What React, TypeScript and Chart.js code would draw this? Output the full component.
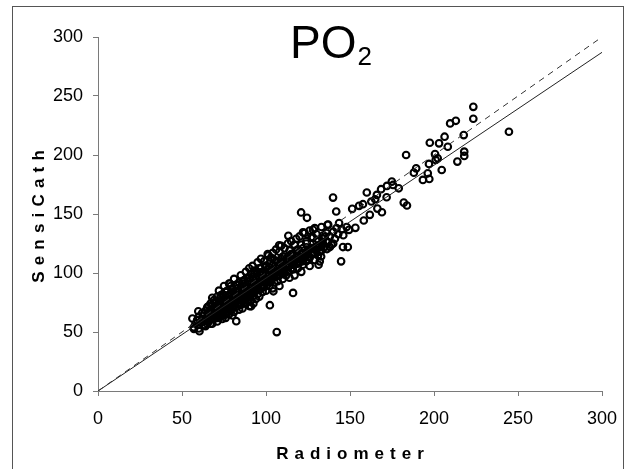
import React, { useEffect, useRef } from "react";
import { Chart, registerables } from "chart.js";

Chart.register(...registerables);

const FONT = '"Liberation Sans", Arial, Helvetica, sans-serif';

const TITLE_MAIN = "PO";
const TITLE_SUB = "2";
const X_TITLE = "Radiometer";
const Y_TITLE = "SensiCath";
const TICK_VALUES = [0, 50, 100, 150, 200, 250, 300];

// Radiometer (x) values
const radiometer = [
  57, 58, 59, 60, 60, 61, 62, 62, 63, 63, 64, 64, 65, 65, 65, 66, 66, 67, 67, 67,
  68, 68, 68, 69, 69, 69, 70, 70, 70, 71, 71, 71, 71, 72, 72, 72, 73, 73, 73, 74,
  74, 74, 74, 75, 75, 75, 76, 76, 76, 76, 77, 77, 77, 78, 78, 78, 79, 79, 79, 79,
  80, 80, 80, 80, 81, 81, 81, 82, 82, 82, 82, 83, 83, 83, 84, 84, 84, 84, 85, 85,
  85, 86, 86, 86, 86, 87, 87, 87, 88, 88, 88, 89, 89, 89, 90, 90, 90, 90, 91, 91,
  91, 92, 92, 92, 93, 93, 93, 94, 94, 94, 95, 95, 95, 96, 96, 96, 97, 97, 97, 98,
  98, 98, 99, 99, 100, 100, 100, 100, 101, 101, 102, 102, 102, 103, 103, 104, 104, 104, 105, 105,
  106, 106, 106, 107, 107, 108, 108, 108, 109, 109, 110, 110, 110, 111, 111, 112, 112, 113, 113, 114,
  114, 115, 115, 116, 116, 117, 117, 118, 118, 119, 119, 120, 120, 121, 121, 122, 122, 123, 124, 124,
  125, 126, 126, 127, 128, 128, 129, 130, 130, 131, 132, 133, 134, 135, 136, 137, 138, 139, 140, 141,
  142, 143, 145, 146, 148,
  66, 68, 70, 72, 73, 75, 76, 78, 80, 81, 83, 85, 86, 88, 89, 90, 91, 92, 93, 94,
  95, 96, 97, 98, 99, 100, 101, 102, 103, 104, 105, 106, 107, 108, 109, 110, 111, 112, 113, 114,
  115, 116, 117, 118, 119, 120, 121, 122, 123, 124, 125, 126, 127, 128, 129, 130, 131, 133, 135, 137,
  63, 64, 66, 67, 69, 70, 71, 72, 73, 74, 75, 77, 77, 78, 79, 80, 81, 82, 83, 84,
  85, 86, 87, 88, 89, 90, 91, 92, 93, 94, 95, 96, 97, 98, 99, 100, 101, 102, 103, 104,
  105, 106, 107, 108, 109, 110, 111, 112, 113, 114, 115, 116, 117, 118, 119, 120, 121, 122, 123, 124,
  125, 126, 127, 128, 129, 130, 131, 132, 133, 134, 136, 138, 140, 92.5,
  223.4, 223.4, 244.6, 213, 209.6, 217.7, 206.3, 203, 197.5, 208.2, 183.4, 200.6, 202.2, 201, 197, 218, 218, 213.9, 204.6, 189.4,
  188, 196.3, 193.4, 197.2, 174.9, 175.6, 172, 179, 168.5, 160, 166, 171.8, 165, 162.7, 139.9, 182, 183.9, 157.7, 155.4, 151.3,
  166.3, 169, 161.8, 158.2, 141.8, 120.9, 124.4, 153.2, 149.4, 136.6, 143.5, 145.8, 148.7, 144.7, 113.3, 107.8, 101.4, 131.3, 132, 116.1,
  104.4, 102.3, 106.4, 82.3, 56.2, 57.1, 60.4, 59.7, 78.5, 91.1, 89.5, 122, 128, 134, 127.3, 132.8, 136.3,
];

// SensiCath (y) values
const sensicath = [
  54, 57, 60, 53, 63, 58, 61, 66, 56, 64, 60, 68, 57, 63, 71, 59, 66, 62, 69, 74,
  57, 65, 72, 61, 68, 77, 63, 70, 75, 59, 66, 73, 80, 62, 69, 76, 65, 71, 79, 61,
  68, 75, 82, 64, 72, 78, 67, 74, 81, 62, 70, 77, 85, 65, 73, 80, 68, 76, 83, 89,
  64, 71, 79, 86, 74, 81, 67, 77, 84, 71, 90, 74, 80, 87, 69, 77, 84, 92, 73, 81,
  88, 76, 83, 91, 70, 79, 86, 94, 74, 82, 89, 77, 85, 93, 72, 80, 88, 96, 83, 90,
  77, 80, 87, 95, 84, 91, 99, 78, 88, 95, 82, 92, 101, 86, 95, 80, 89, 98, 104, 84,
  93, 101, 88, 96, 85, 92, 100, 106, 95, 103, 89, 98, 105, 93, 101, 87, 96, 107, 92, 100,
  97, 104, 110, 93, 101, 89, 98, 106, 103, 112, 95, 100, 108, 104, 114, 98, 107, 102, 111, 96,
  106, 109, 116, 103, 112, 98, 107, 111, 119, 104, 114, 109, 118, 101, 113, 107, 121, 115, 110, 125,
  118, 106, 113, 121, 116, 130, 111, 122, 127, 115, 124, 119, 129, 122, 134, 126, 131, 124, 135, 129,
  138, 133, 137, 132, 139,
  72, 79, 76, 85, 81, 89, 84, 91, 87, 95, 90, 98, 93, 101, 96, 104, 99, 106, 102, 97,
  109, 104, 112, 101, 110, 106, 116, 108, 113, 117, 111, 120, 109, 118, 123, 114, 121, 112, 125, 119,
  127, 116, 124, 129, 120, 131, 124, 117, 134, 127, 122, 136, 130, 125, 138, 133, 128, 139, 131, 141,
  59, 55, 63, 57, 64, 67, 62, 72, 68, 65, 69, 66, 74, 69, 72, 75, 78, 75, 77, 73,
  78, 80, 83, 78, 81, 85, 88, 83, 86, 90, 87, 91, 94, 88, 92, 95, 99, 92, 96, 100,
  97, 101, 98, 102, 100, 104, 101, 105, 106, 110, 104, 107, 110, 114, 108, 112, 116, 110, 113, 117,
  111, 120, 116, 121, 117, 119, 123, 118, 122, 125, 127, 122, 125, 74.2,
  240.8, 230.7, 219.7, 229, 226.8, 216.9, 215.5, 209.9, 210.4, 207, 200, 200.8, 197.2, 195.8, 192.4, 202.8, 199.2, 194.4, 187.3, 188.7,
  185, 184.5, 178.9, 179.7, 177.5, 174.6, 173.8, 171.8, 171, 168.2, 166.2, 164.2, 162.5, 160.6, 163.9, 159.7, 157.2, 158.3, 156.9, 154.4,
  154.6, 151.5, 149.3, 144.5, 152.1, 151.3, 146.8, 138.3, 136.6, 140.8, 142.3, 122, 122, 109.9, 131.5, 123.4, 114.9, 107, 109.9, 83.1,
  84.5, 72.7, 49.9, 59.2, 61.4, 52.7, 50.7, 67.6, 91, 71.8, 76, 134.4, 136.6, 131.8, 116.9, 114, 120.3,
];

// Line of identity and regression line endpoints (x, y)
const identityX = [0, 300];
const identityY = [0, 300];
const regressionX = [0, 300];
const regressionY = [0, 287];

function drawSpaced(ctx: CanvasRenderingContext2D, text: string, cx: number, y: number, spacing: number) {
  const chars = Array.from(text);
  const widths = chars.map((c) => ctx.measureText(c).width);
  const total = widths.reduce((a, b) => a + b, 0) + spacing * (chars.length - 1);
  let x = cx - total / 2;
  ctx.textAlign = "left";
  chars.forEach((c, i) => {
    ctx.fillText(c, x, y);
    x += widths[i] + spacing;
  });
}

const textPlugin = {
  id: "customTexts",
  afterDraw(chart: any) {
    const ctx: CanvasRenderingContext2D = chart.ctx;
    ctx.save();
    ctx.fillStyle = "#000";
    ctx.textBaseline = "alphabetic";
    ctx.textAlign = "left";
    ctx.font = `46px ${FONT}`;
    ctx.fillText(TITLE_MAIN, 290, 58);
    const w = ctx.measureText(TITLE_MAIN).width;
    ctx.font = `26px ${FONT}`;
    ctx.fillText(TITLE_SUB, 290 + w + 1, 65);

    ctx.font = `bold 17px ${FONT}`;
    drawSpaced(ctx, X_TITLE, 350, 459, 6);

    ctx.translate(43.5, 216.5);
    ctx.rotate(-Math.PI / 2);
    drawSpaced(ctx, Y_TITLE, 0, 0, 6.2);
    ctx.restore();
  },
};

export default function App() {
  const canvasRef = useRef<HTMLCanvasElement | null>(null);

  useEffect(() => {
    const canvas = canvasRef.current;
    if (!canvas) return;
    const points = radiometer.map((x, i) => ({ x, y: sensicath[i] }));
    const identity = identityX.map((x, i) => ({ x, y: identityY[i] }));
    const regression = regressionX.map((x, i) => ({ x, y: regressionY[i] }));

    const axisCommon = {
      type: "linear" as const,
      min: 0,
      max: 300,
      grid: {
        drawOnChartArea: false,
        drawTicks: true,
        tickLength: 5,
        color: "#7a7a7a",
        lineWidth: 1,
      },
      border: { display: true, color: "#7a7a7a", width: 1 },
      title: { display: false },
    };

    const chart = new Chart(canvas, {
      type: "scatter",
      data: {
        datasets: [
          {
            label: "identity",
            data: identity,
            showLine: true,
            borderColor: "#333",
            borderWidth: 1,
            borderDash: [6, 5],
            pointRadius: 0,
            fill: false,
          },
          {
            label: "regression",
            data: regression,
            showLine: true,
            borderColor: "#222",
            borderWidth: 1,
            pointRadius: 0,
            fill: false,
          },
          {
            label: "PO2",
            data: points,
            showLine: false,
            pointStyle: "circle",
            pointRadius: 3.3,
            pointBorderWidth: 2.1,
            pointBorderColor: "#000",
            pointBackgroundColor: "rgba(0,0,0,0)",
          },
        ],
      },
      options: {
        animation: false,
        responsive: false,
        devicePixelRatio: 1,
        layout: { padding: { left: 0, top: 37, right: 24, bottom: 0 } },
        plugins: {
          legend: { display: false },
          tooltip: { enabled: false },
          title: { display: false },
        },
        scales: {
          x: {
            ...axisCommon,
            position: "bottom",
            afterBuildTicks: (scale: any) => {
              scale.ticks = TICK_VALUES.map((v) => ({ value: v }));
            },
            ticks: {
              color: "#000",
              font: { family: FONT, size: 18 },
              padding: 12,
              maxRotation: 0,
              autoSkip: false,
            },
            afterFit: (scale: any) => {
              scale.height = 78;
              scale.paddingLeft = 0;
              scale.paddingRight = 0;
            },
          },
          y: {
            ...axisCommon,
            position: "left",
            afterBuildTicks: (scale: any) => {
              scale.ticks = TICK_VALUES.map((v) => ({ value: v }));
            },
            ticks: {
              color: "#000",
              font: { family: FONT, size: 18 },
              padding: 10,
              autoSkip: false,
            },
            afterFit: (scale: any) => {
              scale.width = 98;
              scale.paddingTop = 0;
              scale.paddingBottom = 0;
            },
          },
        },
      },
      plugins: [textPlugin],
    });

    return () => chart.destroy();
  }, []);

  return (
    <div style={{ position: "absolute", left: 0, top: 0, width: 626, height: 469, overflow: "hidden", background: "#fff" }}>
      <div
        style={{
          position: "absolute",
          left: 12,
          top: 6,
          width: 612,
          height: 480,
          border: "1px solid #555",
          boxSizing: "border-box",
          pointerEvents: "none",
        }}
      />
      <canvas ref={canvasRef} width={626} height={469} style={{ position: "absolute", left: 0, top: 0, width: 626, height: 469 }} />
    </div>
  );
}
